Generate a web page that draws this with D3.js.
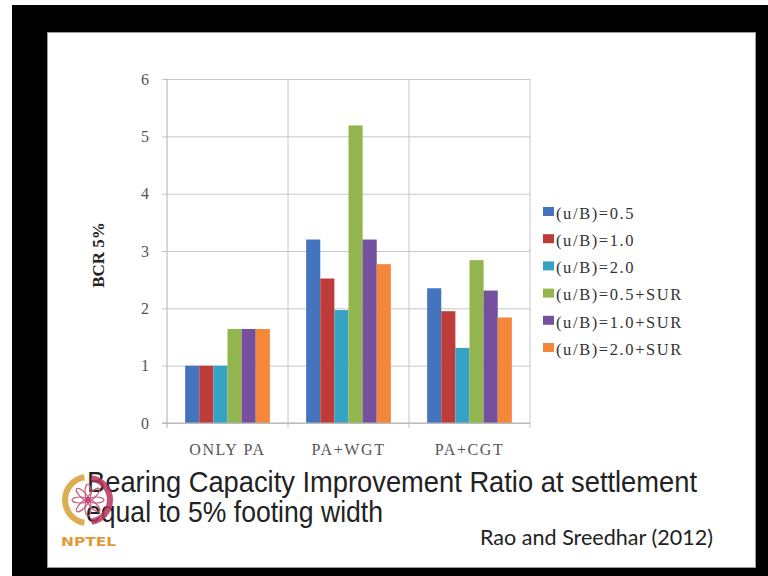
<!DOCTYPE html>
<html>
<head>
<meta charset="utf-8">
<script src="https://cdn.jsdelivr.net/npm/d3@7"></script>
<style>
  html, body { margin: 0; padding: 0; background: #fff; }
  svg { display: block; }
</style>
</head>
<body>
<svg id="chart" width="768" height="576"></svg>
<script>
// Bearing capacity ratio at 5% settlement, by reinforcement case
const categories = ["ONLY PA", "PA+WGT", "PA+CGT"];
const seriesNames = ["(u/B)=0.5", "(u/B)=1.0", "(u/B)=2.0", "(u/B)=0.5+SUR", "(u/B)=1.0+SUR", "(u/B)=2.0+SUR"];
const onlyPA = [1.0, 1.0, 1.0, 1.64, 1.64, 1.64];
const paWGT  = [3.20, 2.52, 1.97, 5.19, 3.20, 2.77];
const paCGT  = [2.35, 1.95, 1.31, 2.84, 2.31, 1.84];
const yTicks = [0, 1, 2, 3, 4, 5, 6];
const colors = ["#4474bd", "#bd3c3a", "#36a3c4", "#92b54d", "#74509f", "#f4873a"];

const values = [onlyPA, paWGT, paCGT];

const svg = d3.select("#chart");

// screen frame and slide
svg.append("rect").attr("x", 0).attr("y", 0).attr("width", 768).attr("height", 576).attr("fill", "#fff");
svg.append("rect").attr("x", 12).attr("y", 5).attr("width", 756).attr("height", 571).attr("fill", "#000");
svg.append("rect").attr("x", 47).attr("y", 32).attr("width", 709).attr("height", 536).attr("fill", "#9a9a9a");
svg.append("rect").attr("x", 48).attr("y", 33).attr("width", 707).attr("height", 534).attr("fill", "#fff");

const plot = { left: 167, right: 530, top: 79, bottom: 423 };

const x0 = d3.scaleBand()
  .domain(categories)
  .range([plot.left, plot.right])
  .paddingInner(0.3)
  .paddingOuter(0.15);

const x1 = d3.scaleBand()
  .domain(d3.range(seriesNames.length))
  .range([0, x0.bandwidth()]);

const y = d3.scaleLinear().domain([0, 6]).range([plot.bottom, plot.top]);

const serif = "'Liberation Serif', 'Times New Roman', serif";

// horizontal gridlines with outward ticks
const yAxis = d3.axisLeft(y)
  .tickValues(yTicks)
  .tickSize(-(plot.right - plot.left))
  .tickPadding(18)
  .tickFormat(d3.format("d"));

const gy = svg.append("g").attr("transform", `translate(${plot.left},0)`).call(yAxis);
gy.select(".domain").remove();
gy.selectAll(".tick line").attr("stroke", "#c6c6c6").attr("x1", -5);
gy.selectAll(".tick text")
  .attr("fill", "#555")
  .style("font-family", serif)
  .style("font-size", "16px");

// vertical separators between categories and plot edges
const seps = [plot.left + x0.step(), plot.left + 2 * x0.step(), plot.right];
svg.append("g").selectAll("line").data(seps).join("line")
  .attr("x1", d => d).attr("x2", d => d)
  .attr("y1", plot.top).attr("y2", plot.bottom + 5)
  .attr("stroke", "#c6c6c6");

svg.append("line")
  .attr("x1", plot.left).attr("x2", plot.left)
  .attr("y1", plot.top).attr("y2", plot.bottom + 5)
  .attr("stroke", "#b0b0b0");

// bars
const groups = svg.append("g").selectAll("g").data(categories).join("g")
  .attr("transform", d => `translate(${x0(d)},0)`);

groups.selectAll("rect")
  .data((d, i) => values[i].map((v, j) => ({ v, j })))
  .join("rect")
  .attr("x", d => x1(d.j))
  .attr("width", x1.bandwidth())
  .attr("y", d => y(d.v))
  .attr("height", d => y(0) - y(d.v))
  .attr("fill", d => colors[d.j]);

// baseline
svg.append("line")
  .attr("x1", plot.left - 5).attr("x2", plot.right)
  .attr("y1", plot.bottom).attr("y2", plot.bottom)
  .attr("stroke", "#b0b0b0");

// category labels
const xAxis = d3.axisBottom(x0).tickSize(0).tickPadding(21);
const gx = svg.append("g").attr("transform", `translate(0,${plot.bottom})`).call(xAxis);
gx.select(".domain").remove();
gx.selectAll(".tick text")
  .attr("fill", "#555")
  .attr("letter-spacing", "1.6")
  .style("font-family", serif)
  .style("font-size", "16px");

// y-axis title
svg.append("text")
  .attr("transform", "translate(104,255) rotate(-90)")
  .attr("text-anchor", "middle")
  .style("font-family", serif)
  .style("font-weight", "bold")
  .style("font-size", "17px")
  .attr("fill", "#222")
  .text("BCR 5%");

// legend
const legend = svg.append("g").attr("transform", "translate(543,212)");
const rows = legend.selectAll("g").data(seriesNames).join("g")
  .attr("transform", (d, i) => `translate(0,${i * 27.2})`);
rows.append("rect")
  .attr("x", 0).attr("y", -5).attr("width", 11).attr("height", 9)
  .attr("fill", (d, i) => colors[i]);
rows.append("text")
  .attr("x", 13).attr("y", 1).attr("dy", "0.35em")
  .attr("letter-spacing", "1.6")
  .style("font-family", serif)
  .style("font-size", "16.5px")
  .attr("fill", "#333")
  .text(d => d);

// caption
const caption = svg.append("g").style("font-family", "'Liberation Sans', Arial, sans-serif").attr("fill", "#222");
caption.append("text").attr("x", 87).attr("y", 492).style("font-size", "29px")
  .attr("textLength", 610).attr("lengthAdjust", "spacingAndGlyphs")
  .text("Bearing Capacity Improvement Ratio at settlement");
caption.append("text").attr("x", 86).attr("y", 522).style("font-size", "29px")
  .attr("textLength", 297).attr("lengthAdjust", "spacingAndGlyphs")
  .text("equal to 5% footing width");
svg.append("text").attr("x", 480).attr("y", 545)
  .style("font-family", "Lato, 'Open Sans', sans-serif").style("font-size", "22px")
  .attr("textLength", 233).attr("lengthAdjust", "spacingAndGlyphs")
  .attr("fill", "#222")
  .text("Rao and Sreedhar (2012)");

// NPTEL emblem
const logo = svg.append("g").attr("transform", "translate(88,500)");
const arc = d3.arc();
logo.append("path")
  .attr("d", arc({ innerRadius: 20, outerRadius: 26, startAngle: -Math.PI * 0.95, endAngle: -Math.PI * 0.05 }))
  .attr("fill", "#d9a441").attr("opacity", 0.9);
logo.append("path")
  .attr("d", arc({ innerRadius: 19, outerRadius: 25, startAngle: Math.PI * 0.05, endAngle: Math.PI * 0.95 }))
  .attr("fill", "#b8335e").attr("opacity", 0.85);
d3.range(8).forEach(k => {
  logo.append("ellipse")
    .attr("cx", 0).attr("cy", -8).attr("rx", 3).attr("ry", 8)
    .attr("transform", `rotate(${k * 45})`)
    .attr("fill", "none").attr("stroke", "#c06080").attr("stroke-width", 1.2);
});
logo.append("circle").attr("r", 3).attr("fill", "#d4407a");
svg.append("text").attr("x", 61).attr("y", 546)
  .style("font-family", "'DejaVu Sans', sans-serif").style("font-weight", "bold").style("font-size", "13px")
  .attr("textLength", 55).attr("lengthAdjust", "spacingAndGlyphs")
  .attr("fill", "#e09a3a")
  .text("NPTEL");
</script>
</body>
</html>
